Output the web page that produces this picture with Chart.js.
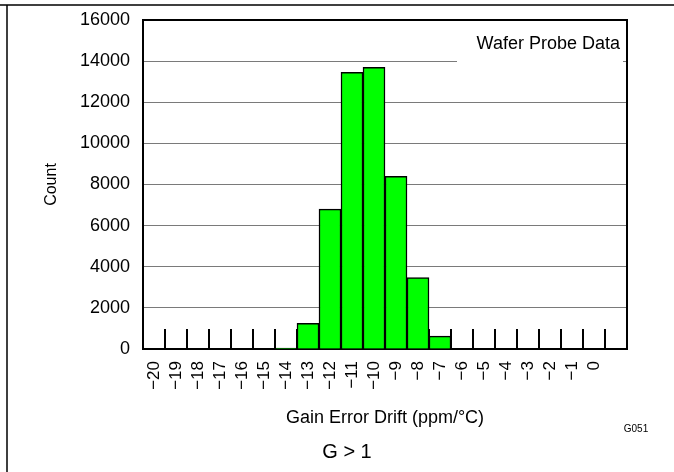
<!DOCTYPE html>
<html>
<head>
<meta charset="utf-8">
<title>Gain Error Drift</title>
<script src="https://cdn.jsdelivr.net/npm/chart.js@4/dist/chart.umd.min.js"></script>
<style>
    body { margin: 0; background: #fff; }
    #histo { display: block; }
</style>
</head>
<body>
<canvas id="histo" width="674" height="472"></canvas>
<script>

// bins of the histogram (ppm/°C), last bin has no label
var driftBins = ['\u221220', '\u221219', '\u221218', '\u221217', '\u221216', '\u221215', '\u221214',
    '\u221213', '\u221212', '\u221211', '\u221210', '\u22129', '\u22128', '\u22127',
    '\u22126', '\u22125', '\u22124', '\u22123', '\u22122', '\u22121', '0', ''];

// counts per bin
var counts = [0, 0, 0, 0, 0, 0, 50, 1250, 6800, 13450, 13700, 8400, 3470, 630,
    0, 0, 0, 0, 0, 0, 0, 0];

var countTicks = [0, 2000, 4000, 6000, 8000, 10000, 12000, 14000, 16000];

var FONT = 'Liberation Sans, Arial, Helvetica, sans-serif';

// draws frame, inner tick marks, plot box and the text notes
var extras = {
    id: 'extras',
    beforeDraw: function(chart) {
        var ctx = chart.ctx;
        ctx.save();
        ctx.strokeStyle = '#000';
        ctx.lineWidth = 1.5;
        ctx.beginPath();
        ctx.moveTo(0, 5);
        ctx.lineTo(chart.width, 5);
        ctx.moveTo(7, 5);
        ctx.lineTo(7, chart.height);
        ctx.stroke();
        ctx.restore();
    },
    beforeDatasetsDraw: function(chart) {
        var ctx = chart.ctx;
        var x = chart.scales.x;
        var area = chart.chartArea;
        ctx.save();
        ctx.strokeStyle = '#000';
        ctx.lineWidth = 2;
        ctx.beginPath();
        for (var i = 0; i < driftBins.length - 1; i++) {
            var px = (x.getPixelForValue(i) + x.getPixelForValue(i + 1)) / 2;
            ctx.moveTo(px, area.bottom);
            ctx.lineTo(px, area.bottom - 20);
        }
        ctx.stroke();
        ctx.restore();
    },
    afterDatasetsDraw: function(chart) {
        var ctx = chart.ctx;
        var area = chart.chartArea;
        var y = chart.scales.y;
        ctx.save();
        // clear the gridline behind the note
        ctx.fillStyle = '#fff';
        ctx.fillRect(area.right - 170, y.getPixelForValue(14000) - 4, 166, 8);
        ctx.fillStyle = '#000';
        ctx.font = '18px ' + FONT;
        ctx.textAlign = 'right';
        ctx.textBaseline = 'middle';
        ctx.fillText('Wafer Probe Data', area.right - 7, 44);
        ctx.restore();
    },
    afterDraw: function(chart) {
        var ctx = chart.ctx;
        var area = chart.chartArea;
        ctx.save();
        ctx.strokeStyle = '#000';
        ctx.lineWidth = 2;
        ctx.beginPath();
        ctx.moveTo(area.left, area.top);
        ctx.lineTo(area.right, area.top);
        ctx.lineTo(area.right, area.bottom);
        ctx.stroke();

        ctx.fillStyle = '#000';
        ctx.textAlign = 'center';
        ctx.textBaseline = 'middle';
        ctx.font = '20px ' + FONT;
        ctx.fillText('G > 1', 347, 452);
        ctx.font = '10px ' + FONT;
        ctx.fillText('G051', 636, 429);
        ctx.restore();
    }
};

function histChart() {
    var ctx = document.getElementById('histo').getContext('2d');
    var chart = new Chart(ctx, {

    type: 'bar',

    data: {
        labels: driftBins,
        datasets: [{
            data: counts,
            backgroundColor: '#00ff00',
            borderColor: '#000',
            borderWidth: 1.5,
            barPercentage: 1,
            categoryPercentage: 1
        }]
    },

    options: {
        responsive: false,
        animation: false,
        layout: {
            padding: { left: 40, top: 20, right: 47, bottom: 0 }
        },
        plugins: {
            legend: { display: false },
            tooltip: { enabled: false }
        },
        scales: {
            x: {
                afterFit: function(scale) {
                    scale.height = 123;
                    scale.paddingLeft = 0;
                    scale.paddingRight = 0;
                },
                grid: { display: false },
                border: { color: '#000', width: 2 },
                ticks: {
                    color: '#000',
                    font: { family: FONT, size: 17 },
                    minRotation: 90,
                    maxRotation: 90,
                    autoSkip: false,
                    padding: 4
                },
                title: {
                    display: true,
                    text: 'Gain Error Drift (ppm/°C)',
                    color: '#000',
                    font: { family: FONT, size: 18 },
                    padding: { top: 0, bottom: 43 }
                }
            },
            y: {
                min: 0,
                max: 16000,
                afterFit: function(scale) {
                    scale.width = 103;
                    scale.paddingTop = 0;
                    scale.paddingBottom = 0;
                },
                afterBuildTicks: function(scale) {
                    scale.ticks = countTicks.map(function(v) { return { value: v }; });
                },
                grid: { color: '#7a7a7a', lineWidth: 1, drawTicks: false },
                border: { color: '#000', width: 2 },
                ticks: {
                    color: '#000',
                    font: { family: FONT, size: 18 },
                    padding: 13,
                    callback: function(value) { return String(value); }
                },
                title: {
                    display: true,
                    text: 'Count',
                    color: '#000',
                    font: { family: FONT, size: 16 },
                    padding: { top: 2, bottom: 0 }
                }
            }
        }
    },
    plugins: [extras]
});
}

histChart();

</script>
</body>
</html>
